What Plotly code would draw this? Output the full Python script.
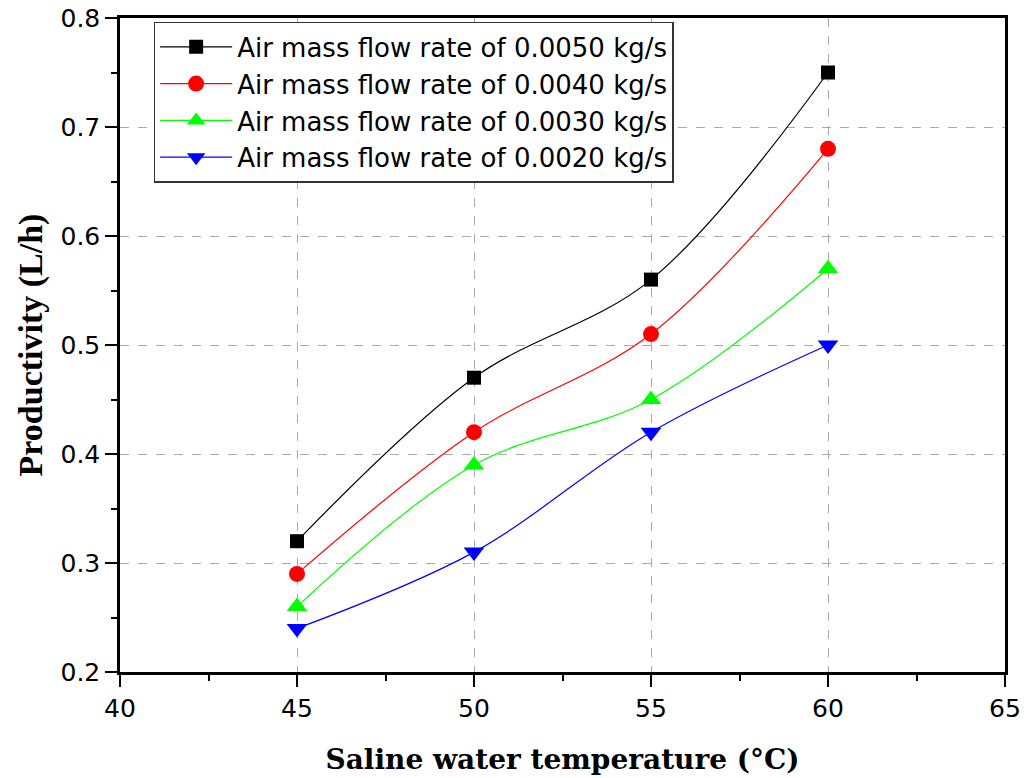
import plotly.graph_objects as go

temperature = [45, 50, 55, 60]
flow_050 = [0.32, 0.47, 0.56, 0.75]
flow_040 = [0.29, 0.42, 0.51, 0.68]
flow_030 = [0.26, 0.39, 0.45, 0.57]
flow_020 = [0.24, 0.31, 0.42, 0.50]
x_ticks = [40, 45, 50, 55, 60, 65]
y_ticks = [0.2, 0.3, 0.4, 0.5, 0.6, 0.7, 0.8]
y_tick_text = ["0.2", "0.3", "0.4", "0.5", "0.6", "0.7", "0.8"]

series = [
    ("Air mass flow rate of 0.0050 kg/s", flow_050, "#000000", "square", 14),
    ("Air mass flow rate of 0.0040 kg/s", flow_040, "#ff0000", "circle", 16),
    ("Air mass flow rate of 0.0030 kg/s", flow_030, "#00ff00", "triangle-up", 18),
    ("Air mass flow rate of 0.0020 kg/s", flow_020, "#0000ff", "triangle-down", 18),
]

fig = go.Figure()
for name, vals, color, sym, size in series:
    fig.add_trace(go.Scatter(
        x=temperature, y=vals, name=name, mode="lines+markers",
        line=dict(color=color, width=1.2, shape="spline", smoothing=1.0),
        marker=dict(symbol=sym, size=size, color=color),
    ))

axis_common = dict(
    showline=True, linecolor="black", linewidth=2.5, mirror=True,
    ticks="outside", ticklen=12, tickwidth=2, tickcolor="black",
    showgrid=True, gridcolor="#aaaaaa", griddash="dash", gridwidth=1,
    zeroline=False, ticklabeloverflow="allow", automargin=False,
    tickfont=dict(family="DejaVu Sans", size=25, color="black"),
)

fig.update_xaxes(
    range=[40, 65], tickmode="array", tickvals=x_ticks,
    minor=dict(ticks="outside", ticklen=6, tickwidth=2, tickcolor="black", dtick=2.5, showgrid=False),
    title=dict(text="<b>Saline water temperature (°C)</b>",
               font=dict(family="DejaVu Serif", size=28, color="black"),
               standoff=28),
    **axis_common,
)
fig.update_yaxes(
    range=[0.2, 0.8], tickmode="array", tickvals=y_ticks, ticktext=y_tick_text,
    minor=dict(ticks="outside", ticklen=6, tickwidth=2, tickcolor="black", dtick=0.05, showgrid=False),
    title=dict(text="<b>Productivity (L/h)</b>",
               font=dict(family="Liberation Serif, Times New Roman", size=34, color="black"),
               standoff=8),
    **axis_common,
)

fig.update_layout(
    width=1027, height=778,
    margin=dict(l=120, r=22, t=18, b=106),
    paper_bgcolor="white", plot_bgcolor="white",
    showlegend=True,
    legend=dict(
        x=0.038, y=0.994, xanchor="left", yanchor="top",
        bgcolor="white", bordercolor="#333333", borderwidth=1.5,
        font=dict(family="DejaVu Sans", size=26, color="black"),
        itemwidth=72, tracegroupgap=0,
    ),
)

fig.write_html(
    "out.html",
    config={"displayModeBar": False},
    post_script="document.body.style.margin='0';document.body.style.overflow='hidden';",
)
